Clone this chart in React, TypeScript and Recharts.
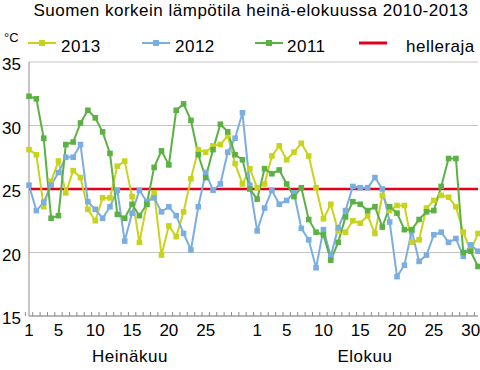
import React from 'react';
import { LineChart, Line, XAxis, YAxis, CartesianGrid, ReferenceLine } from 'recharts';

const title = 'Suomen korkein lämpötila heinä-elokuussa 2010-2013';
const unit = '°C';
const months = ['Heinäkuu', 'Elokuu'];
const seriesNames = ['2013', '2012', '2011'];
const thresholdName = 'helleraja';
const threshold = 25;
const yTicks = [15, 20, 25, 30, 35];

const julyDays = [1, 2, 3, 4, 5, 6, 7, 8, 9, 10, 11, 12, 13, 14, 15, 16, 17, 18, 19, 20, 21, 22, 23, 24, 25, 26, 27, 28, 29, 30, 31];
const augDays = [1, 2, 3, 4, 5, 6, 7, 8, 9, 10, 11, 12, 13, 14, 15, 16, 17, 18, 19, 20, 21, 22, 23, 24, 25, 26, 27, 28, 29, 30, 31];
const julyLabeled = [1, 5, 10, 15, 20, 25];
const augLabeled = [1, 5, 10, 15, 20, 25, 30];

const t2013 = [
  28.1, 27.7, 23.6, 25.6, 27.2, 24.7, 26.45, 25.9, 23.4, 22.5, 24.3, 24.3, 26.8, 27.2, 24.4, 20.8,
  23.8, 24.7, 19.8, 22.1, 21.25, 23.2, 25.8, 28.1, 27.9, 28.4, 28.5, 29.2, 27.0, 25.4, 26.6,
  25.1, 25.4, 27.6, 28.4, 27.3, 27.9, 28.6, 27.6, 25.1, 22.65, 23.8, 21.7, 21.6, 22.5, 22.3, 22.9,
  21.5, 24.5, 23.3, 23.7, 23.7, 20.8, 21.0, 23.5, 24.1, 24.5, 24.35, 23.6, 21.6, 20.1, 21.5,
];
const t2012 = [
  25.3, 23.3, 23.95, 25.3, 26.3, 27.5, 27.5, 28.5, 24.0, 23.4, 22.7, 23.6, 24.9, 20.9, 23.1, 24.9,
  24.0, 24.3, 23.2, 23.6, 22.9, 21.5, 20.2, 23.6, 26.3, 24.9, 25.4, 27.9, 29.0, 31.0, 25.3,
  21.7, 23.5, 24.9, 23.8, 24.1, 24.7, 21.9, 21.0, 18.8, 21.8, 19.7, 21.95, 23.3, 25.2, 25.1, 25.1,
  25.9, 25.0, 22.4, 18.1, 19.0, 21.7, 19.3, 19.8, 21.4, 21.6, 20.8, 21.1, 19.7, 20.6, 20.1,
];
const t2011 = [
  32.3, 32.1, 29.0, 22.7, 22.9, 28.5, 28.7, 30.2, 31.2, 30.6, 29.5, 27.8, 23.0, 22.7, 23.8, 22.9,
  23.8, 26.7, 28.0, 26.9, 31.2, 31.7, 30.4, 27.7, 25.9, 28.1, 30.1, 29.5, 27.7, 27.3, 25.0,
  24.2, 26.6, 26.2, 26.5, 25.4, 24.4, 25.1, 22.6, 21.6, 21.4, 19.4, 20.8, 22.8, 24.0, 23.8, 23.3,
  23.6, 22.0, 23.6, 23.1, 21.8, 21.8, 22.6, 23.2, 23.3, 25.2, 27.4, 27.4, 20.0, 20.1, 18.9,
];

const COLORS = { y2013: '#c8d41c', y2012: '#7aaee0', y2011: '#5cb145', red: '#e2001a' };
const FONT = '"Liberation Sans", Arial, sans-serif';

const W = 480;
const H = 370;
const MARGIN = { top: 62, right: 2, left: 0, bottom: 0 };
const Y_AXIS_W = 29;
const X_AXIS_H = 54;

const days = [
  ...julyDays.map((d) => ({ key: `7-${d}`, label: julyLabeled.includes(d) ? String(d) : '' })),
  ...augDays.map((d) => ({ key: `8-${d}`, label: augLabeled.includes(d) ? String(d) : '' })),
];
const data = days.map((d, i) => ({ ...d, y2013: t2013[i], y2012: t2012[i], y2011: t2011[i] }));
const labelByKey: Record<string, string> = {};
days.forEach((d) => (labelByKey[d.key] = d.label));

const BAND = (W - MARGIN.left - MARGIN.right - Y_AXIS_W) / data.length;

const SquareDot = (color: string) => (props: any) => {
  const { cx, cy, index } = props;
  if (cx == null || cy == null) return <g key={index} />;
  return <rect key={index} x={cx - 2.8} y={cy - 2.8} width={5.6} height={5.6} fill={color} />;
};

const XTick = (props: any) => {
  const { x, y, payload, index } = props;
  const half = BAND / 2;
  const isLast = index === data.length - 1;
  const label = labelByKey[payload.value];
  return (
    <g>
      <line x1={x - half} x2={x - half} y1={y} y2={y - 4} stroke="#8c8c8c" strokeWidth={1} />
      {isLast && <line x1={x + half} x2={x + half} y1={y} y2={y - 4} stroke="#8c8c8c" strokeWidth={1} />}
      {label && (
        <text x={x} y={y + 20} textAnchor="middle" fontSize={17} fontFamily={FONT} fill="#000">
          {label}
        </text>
      )}
    </g>
  );
};

const LegendMarker = ({ color, square }: { color: string; square: boolean }) => (
  <svg width={28} height={10} style={{ display: 'block' }}>
    <line x1={0} x2={28} y1={5} y2={5} stroke={color} strokeWidth={square ? 2 : 3} />
    {square && <rect x={11} y={2} width={6} height={6} fill={color} />}
  </svg>
);

const legendItems = [
  { name: seriesNames[0], color: COLORS.y2013, square: true, mx: 28, tx: 61 },
  { name: seriesNames[1], color: COLORS.y2012, square: true, mx: 142, tx: 175 },
  { name: seriesNames[2], color: COLORS.y2011, square: true, mx: 255, tx: 287 },
  { name: thresholdName, color: COLORS.red, square: false, mx: 359, tx: 406 },
];

export default function App() {
  return (
    <div style={{ position: 'absolute', left: 0, top: 0, width: W, height: H, background: '#fff', fontFamily: FONT }}>
      <div
        style={{
          position: 'absolute', left: 0, top: 1, width: W, textAlign: 'center', paddingLeft: 22,
          boxSizing: 'border-box', fontSize: 17, letterSpacing: 0.5, color: '#000', lineHeight: '20px',
        }}
      >
        {title}
      </div>
      <div style={{ position: 'absolute', left: 4, top: 30, fontSize: 13, color: '#000', lineHeight: '16px' }}>{unit}</div>
      {legendItems.map((it) => (
        <React.Fragment key={it.name}>
          <div style={{ position: 'absolute', left: it.mx, top: 38 }}>
            <LegendMarker color={it.color} square={it.square} />
          </div>
          <div style={{ position: 'absolute', left: it.tx, top: 37, fontSize: 17, letterSpacing: 0.5, lineHeight: '20px', color: '#000' }}>
            {it.name}
          </div>
        </React.Fragment>
      ))}
      <div style={{ position: 'absolute', left: 130 - 60, width: 120, top: 347, textAlign: 'center', fontSize: 17, letterSpacing: 0.5, lineHeight: '20px' }}>
        {months[0]}
      </div>
      <div style={{ position: 'absolute', left: 365 - 60, width: 120, top: 347, textAlign: 'center', fontSize: 17, letterSpacing: 0.5, lineHeight: '20px' }}>
        {months[1]}
      </div>
      <div style={{ position: 'absolute', left: 0, top: 0 }}>
        <LineChart width={W} height={H} data={data} margin={MARGIN}>
          <CartesianGrid vertical={false} stroke="#c4c4c4" strokeWidth={1} />
          <XAxis
            dataKey="key"
            interval={0}
            height={X_AXIS_H}
            tickLine={false}
            tickSize={0}
            tickMargin={0}
            axisLine={{ stroke: '#8c8c8c', strokeWidth: 1 }}
            tick={<XTick />}
          />
          <YAxis
            domain={[15, 35]}
            ticks={yTicks}
            width={Y_AXIS_W}
            tickLine={false}
            tickSize={0}
            tickMargin={8}
            axisLine={{ stroke: '#8c8c8c', strokeWidth: 1 }}
            tick={{ fontSize: 17, fill: '#000', fontFamily: FONT, dy: 2 }}
            allowDataOverflow
          />
          <ReferenceLine y={threshold} stroke={COLORS.red} strokeWidth={2.5} ifOverflow="extendDomain" />
          <Line type="linear" dataKey="y2013" name={seriesNames[0]} stroke={COLORS.y2013} strokeWidth={2} dot={SquareDot(COLORS.y2013)} activeDot={false} isAnimationActive={false} />
          <Line type="linear" dataKey="y2012" name={seriesNames[1]} stroke={COLORS.y2012} strokeWidth={2} dot={SquareDot(COLORS.y2012)} activeDot={false} isAnimationActive={false} />
          <Line type="linear" dataKey="y2011" name={seriesNames[2]} stroke={COLORS.y2011} strokeWidth={2} dot={SquareDot(COLORS.y2011)} activeDot={false} isAnimationActive={false} />
        </LineChart>
      </div>
    </div>
  );
}
